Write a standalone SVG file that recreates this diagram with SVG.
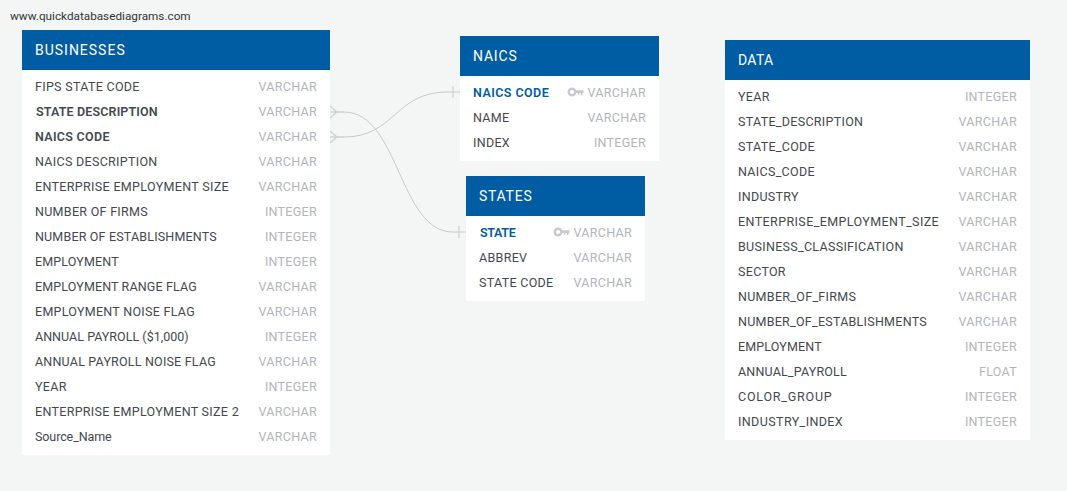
<svg xmlns="http://www.w3.org/2000/svg" width="1067" height="491" viewBox="0 0 1067 491">
<style>
text{font-family:Roboto,"Liberation Sans",sans-serif;font-size:12.5px;letter-spacing:.3px;dominant-baseline:central}
.h{fill:#005ca3}.b{fill:#fff}
.t{fill:#fff;font-size:14px}
.n{fill:#43484e}.s{font-weight:600}
.p{fill:#005ca3;font-weight:600}
.y{fill:#b2b5ba;text-anchor:end}
.c{fill:none;stroke:#c8cac9;stroke-width:1}
.f{fill:none;stroke:#d2d4d3;stroke-width:1.500}
.k{fill:#c6c9ce}
</style>
<defs>
<g id="key"><circle cx="4" cy="0" r="3.300" fill="none" stroke="#c6c9ce" stroke-width="2.400"/><path class="k" d="M7 -1.800H15.500V1H14.500V3.200H12.800V1H11.400V2.800H9.700V1H7Z"/></g>
</defs>
<rect width="1067" height="491" fill="#f4f6f6"/>
<text x="10" y="15.500" style="font-size:11.750px;letter-spacing:0;fill:#333">www.quickdatabasediagrams.com</text>
<g id="connectors">
<path class="c" d="M337 112H344C399 112 399 232 453 232H466"/>
<path class="c" d="M337 137H344C395 137 395 92 447 92H460"/>
<path class="f" d="M330 106L337 112L330 118M330 112H344M330 131L337 137L330 143M330 137H344"/>
<path class="c" d="M453 86V98M459 226V238"/>
</g>
<g id="businesses">
<rect class="b" x="22" y="30" width="308" height="425"/><rect class="h" x="22" y="30" width="308" height="40"/>
<text class="t" x="35" y="50" textLength="90">BUSINESSES</text>
<text class="n" x="35" y="86.500">FIPS STATE CODE</text><text class="y" x="317" y="86.500">VARCHAR</text>
<text class="n s" x="36" y="111.500" textLength="122">STATE DESCRIPTION</text><text class="y" x="317" y="111.500">VARCHAR</text>
<text class="n s" x="35" y="136.500">NAICS CODE</text><text class="y" x="317" y="136.500">VARCHAR</text>
<text class="n" x="35" y="161.500">NAICS DESCRIPTION</text><text class="y" x="317" y="161.500">VARCHAR</text>
<text class="n" x="35" y="186.500" textLength="194">ENTERPRISE EMPLOYMENT SIZE</text><text class="y" x="317" y="186.500">VARCHAR</text>
<text class="n" x="35" y="211.500" textLength="113">NUMBER OF FIRMS</text><text class="y" x="317" y="211.500">INTEGER</text>
<text class="n" x="35" y="236.500" textLength="182">NUMBER OF ESTABLISHMENTS</text><text class="y" x="317" y="236.500">INTEGER</text>
<text class="n" x="35" y="261.500" textLength="84">EMPLOYMENT</text><text class="y" x="317" y="261.500">INTEGER</text>
<text class="n" x="35" y="286.500" textLength="162">EMPLOYMENT RANGE FLAG</text><text class="y" x="317" y="286.500">VARCHAR</text>
<text class="n" x="35" y="311.500" textLength="160">EMPLOYMENT NOISE FLAG</text><text class="y" x="317" y="311.500">VARCHAR</text>
<text class="n" x="35" y="336.500" textLength="154">ANNUAL PAYROLL ($1,000)</text><text class="y" x="317" y="336.500">INTEGER</text>
<text class="n" x="35" y="361.500" textLength="181">ANNUAL PAYROLL NOISE FLAG</text><text class="y" x="317" y="361.500">VARCHAR</text>
<text class="n" x="35" y="386.500">YEAR</text><text class="y" x="317" y="386.500">INTEGER</text>
<text class="n" x="35" y="411.500" textLength="204">ENTERPRISE EMPLOYMENT SIZE 2</text><text class="y" x="317" y="411.500">VARCHAR</text>
<text class="n" x="35" y="436.500" textLength="77">Source_Name</text><text class="y" x="317" y="436.500">VARCHAR</text>
</g>
<g id="naics">
<rect class="b" x="460" y="36" width="199" height="125"/><rect class="h" x="460" y="36" width="199" height="40"/>
<text class="t" x="473" y="56" textLength="44">NAICS</text>
<text class="p" x="473" y="92.500" textLength="76">NAICS CODE</text><use href="#key" x="568" y="92"/><text class="y" x="646" y="92.500">VARCHAR</text>
<text class="n" x="473" y="117.500">NAME</text><text class="y" x="646" y="117.500">VARCHAR</text>
<text class="n" x="473" y="142.500">INDEX</text><text class="y" x="646" y="142.500">INTEGER</text>
</g>
<g id="states">
<rect class="b" x="466" y="176" width="179" height="125"/><rect class="h" x="466" y="176" width="179" height="40"/>
<text class="t" x="479" y="196" textLength="53">STATES</text>
<text class="p" x="480" y="232.500" textLength="36">STATE</text><use href="#key" x="554" y="232"/><text class="y" x="632" y="232.500">VARCHAR</text>
<text class="n" x="479" y="257.500">ABBREV</text><text class="y" x="632" y="257.500">VARCHAR</text>
<text class="n" x="479" y="282.500">STATE CODE</text><text class="y" x="632" y="282.500">VARCHAR</text>
</g>
<g id="data">
<rect class="b" x="725" y="40" width="305" height="400"/><rect class="h" x="725" y="40" width="305" height="40"/>
<text class="t" x="738" y="60">DATA</text>
<text class="n" x="738" y="96.500">YEAR</text><text class="y" x="1017" y="96.500">INTEGER</text>
<text class="n" x="738" y="121.500">STATE_DESCRIPTION</text><text class="y" x="1017" y="121.500">VARCHAR</text>
<text class="n" x="738" y="146.500">STATE_CODE</text><text class="y" x="1017" y="146.500">VARCHAR</text>
<text class="n" x="738" y="171.500">NAICS_CODE</text><text class="y" x="1017" y="171.500">VARCHAR</text>
<text class="n" x="738" y="196.500">INDUSTRY</text><text class="y" x="1017" y="196.500">VARCHAR</text>
<text class="n" x="738" y="221.500" textLength="201">ENTERPRISE_EMPLOYMENT_SIZE</text><text class="y" x="1017" y="221.500">VARCHAR</text>
<text class="n" x="738" y="246.500">BUSINESS_CLASSIFICATION</text><text class="y" x="1017" y="246.500">VARCHAR</text>
<text class="n" x="738" y="271.500">SECTOR</text><text class="y" x="1017" y="271.500">VARCHAR</text>
<text class="n" x="738" y="296.500">NUMBER_OF_FIRMS</text><text class="y" x="1017" y="296.500">VARCHAR</text>
<text class="n" x="738" y="321.500" textLength="189">NUMBER_OF_ESTABLISHMENTS</text><text class="y" x="1017" y="321.500">VARCHAR</text>
<text class="n" x="738" y="346.500" textLength="84">EMPLOYMENT</text><text class="y" x="1017" y="346.500">INTEGER</text>
<text class="n" x="738" y="371.500" textLength="109">ANNUAL_PAYROLL</text><text class="y" x="1017" y="371.500">FLOAT</text>
<text class="n" x="738" y="396.500" textLength="94">COLOR_GROUP</text><text class="y" x="1017" y="396.500">INTEGER</text>
<text class="n" x="738" y="421.500" textLength="105">INDUSTRY_INDEX</text><text class="y" x="1017" y="421.500">INTEGER</text>
</g>
</svg>
